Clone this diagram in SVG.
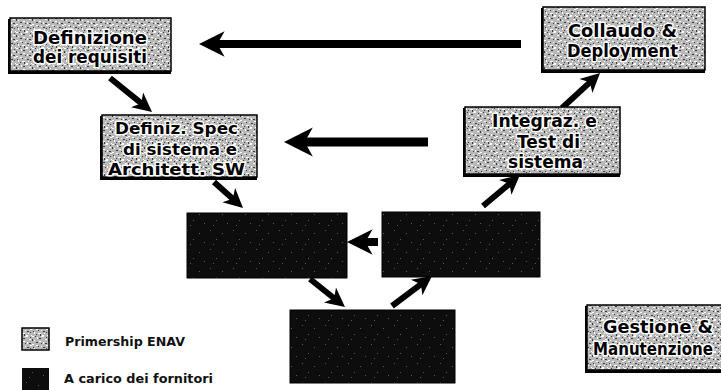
<svg xmlns="http://www.w3.org/2000/svg" width="721" height="390" viewBox="0 0 721 390">
  <defs>
    <!-- halftone-like grain for the ENAV boxes -->
    <pattern id="grain" width="16" height="16" patternUnits="userSpaceOnUse">
      <rect width="16" height="16" fill="#b8b8b8"/>
      <g fill="#ffffff">
        <rect x="0" y="0" width="2" height="1"/><rect x="5" y="1" width="1" height="2"/>
        <rect x="9" y="0" width="3" height="1"/><rect x="13" y="3" width="2" height="1"/>
        <rect x="2" y="4" width="1" height="1"/><rect x="7" y="5" width="2" height="1"/>
        <rect x="11" y="6" width="1" height="2"/><rect x="0" y="8" width="2" height="1"/>
        <rect x="4" y="9" width="2" height="1"/><rect x="9" y="10" width="1" height="1"/>
        <rect x="14" y="9" width="2" height="1"/><rect x="2" y="12" width="1" height="2"/>
        <rect x="6" y="13" width="3" height="1"/><rect x="12" y="13" width="1" height="1"/>
        <rect x="15" y="15" width="1" height="1"/><rect x="10" y="15" width="2" height="1"/>
      </g>
      <g fill="#3c3c3c">
        <rect x="3" y="0" width="1" height="1"/><rect x="7" y="2" width="2" height="1"/>
        <rect x="14" y="1" width="1" height="1"/><rect x="0" y="3" width="1" height="2"/>
        <rect x="4" y="6" width="2" height="1"/><rect x="9" y="7" width="1" height="1"/>
        <rect x="13" y="7" width="2" height="1"/><rect x="6" y="10" width="1" height="1"/>
        <rect x="11" y="11" width="2" height="1"/><rect x="1" y="11" width="1" height="1"/>
        <rect x="4" y="14" width="1" height="1"/><rect x="8" y="14" width="1" height="2"/>
        <rect x="14" y="12" width="1" height="1"/>
      </g>
    </pattern>
    <!-- sparse specks for the supplier boxes -->
    <pattern id="specks" width="23" height="19" patternUnits="userSpaceOnUse">
      <rect width="23" height="19" fill="#0d0d0d"/>
      <g fill="#5a5a5a">
        <rect x="3" y="2" width="1" height="1"/><rect x="15" y="5" width="1" height="1"/>
        <rect x="9" y="11" width="1" height="1"/><rect x="20" y="14" width="1" height="1"/>
        <rect x="6" y="16" width="1" height="1"/>
      </g>
    </pattern>
    <marker id="head" viewBox="-0.3 -1.7 3.4 3.4" refX="1" refY="0" markerWidth="3.4" markerHeight="3.4" orient="auto" markerUnits="strokeWidth">
      <path d="M3,0 L-0.2,-1.6 L0.7,0 L-0.2,1.6 Z" fill="#000"/>
    </marker>
    <style>
      .enav .shadow { fill: #000; }
      .enav .face { fill: url(#grain); stroke: #000; stroke-width: 1.5; }
      .supplier rect { fill: url(#specks); stroke: #000; stroke-width: 1; }
      .label { font-family: "DejaVu Sans", Verdana, sans-serif; font-weight: bold; fill: #000;
               stroke: #fff; stroke-width: 3; stroke-linejoin: round; paint-order: stroke; text-anchor: start; }
      .legend-text { font-family: "DejaVu Sans", Verdana, sans-serif; font-weight: bold; font-size: 12px; fill: #111; }
      .conn line { stroke: #000; stroke-linecap: butt; marker-end: url(#head); }
    </style>
  </defs>

  <rect width="721" height="390" fill="#fff"/>

  <!-- connectors -->
  <g id="connectors" class="conn">
    <line x1="521" y1="44" x2="215" y2="44" stroke-width="8"/>
    <line x1="428" y1="142" x2="302" y2="142" stroke-width="9"/>
    <line x1="378" y1="242" x2="363" y2="242" stroke-width="8"/>
    <line x1="110" y1="78" x2="142.7" y2="104.4" stroke-width="6"/>
    <line x1="214" y1="182" x2="234.1" y2="200" stroke-width="6"/>
    <line x1="310" y1="279" x2="335.6" y2="299.5" stroke-width="6"/>
    <line x1="392" y1="306" x2="422.4" y2="283.2" stroke-width="6"/>
    <line x1="483" y1="206" x2="510.8" y2="182.7" stroke-width="6"/>
    <line x1="562" y1="108" x2="591.2" y2="81.1" stroke-width="6"/>
  </g>

  <!-- ENAV-led phases -->
  <g id="definizione-requisiti" class="enav">
    <rect class="shadow" x="8" y="19" width="163" height="55"/>
    <rect class="face" x="10" y="18" width="161" height="53"/>
    <text class="label" font-size="17" x="33" y="44" textLength="114" lengthAdjust="spacingAndGlyphs">Definizione</text>
    <text class="label" font-size="17" x="33" y="63" textLength="114" lengthAdjust="spacingAndGlyphs">dei requisiti</text>
  </g>

  <g id="collaudo-deployment" class="enav">
    <rect class="shadow" x="541" y="8" width="164" height="65"/>
    <rect class="face" x="543" y="7" width="162" height="63"/>
    <text class="label" font-size="17" x="568" y="37" textLength="109" lengthAdjust="spacingAndGlyphs">Collaudo &amp;</text>
    <text class="label" font-size="17" x="567" y="57" textLength="111" lengthAdjust="spacingAndGlyphs">Deployment</text>
  </g>

  <g id="definiz-spec" class="enav">
    <rect class="shadow" x="100" y="116" width="157" height="64"/>
    <rect class="face" x="102" y="115" width="155" height="62"/>
    <text class="label" font-size="16" x="115" y="134" textLength="123" lengthAdjust="spacingAndGlyphs">Definiz. Spec</text>
    <text class="label" font-size="16" x="123" y="155" textLength="114" lengthAdjust="spacingAndGlyphs">di sistema e</text>
    <text class="label" font-size="16" x="108" y="175" textLength="137" lengthAdjust="spacingAndGlyphs">Architett. SW</text>
  </g>

  <g id="integraz-test" class="enav">
    <rect class="shadow" x="463" y="108" width="157" height="69"/>
    <rect class="face" x="465" y="107" width="155" height="67"/>
    <text class="label" font-size="17" x="492" y="127" textLength="105" lengthAdjust="spacingAndGlyphs">Integraz. e</text>
    <text class="label" font-size="17" x="517" y="148" textLength="63" lengthAdjust="spacingAndGlyphs">Test di</text>
    <text class="label" font-size="17" x="508" y="168" textLength="75" lengthAdjust="spacingAndGlyphs">sistema</text>
  </g>

  <g id="gestione-manutenzione" class="enav">
    <rect class="shadow" x="585" y="306" width="140" height="67"/>
    <rect class="face" x="587" y="305" width="138" height="65"/>
    <text class="label" font-size="17" x="603" y="333" textLength="110" lengthAdjust="spacingAndGlyphs">Gestione &amp;</text>
    <text class="label" font-size="17" x="593" y="355" textLength="120" lengthAdjust="spacingAndGlyphs">Manutenzione</text>
  </g>

  <!-- supplier phases -->
  <g id="fornitore-1" class="supplier">
    <rect x="187" y="213" width="160" height="65"/>
  </g>
  <g id="fornitore-2" class="supplier">
    <rect x="382" y="212" width="158" height="65"/>
  </g>
  <g id="fornitore-3" class="supplier">
    <rect x="290" y="310" width="165" height="73"/>
  </g>

  <!-- legend -->
  <g id="legenda">
    <rect x="22" y="328" width="27" height="22" fill="url(#grain)" stroke="#000" stroke-width="1.5"/>
    <text class="legend-text" x="65" y="346" textLength="120" lengthAdjust="spacingAndGlyphs">Primership ENAV</text>
    <rect x="22" y="368" width="27" height="22" fill="url(#specks)"/>
    <text class="legend-text" x="64" y="383" textLength="149" lengthAdjust="spacingAndGlyphs">A carico dei fornitori</text>
  </g>
</svg>
